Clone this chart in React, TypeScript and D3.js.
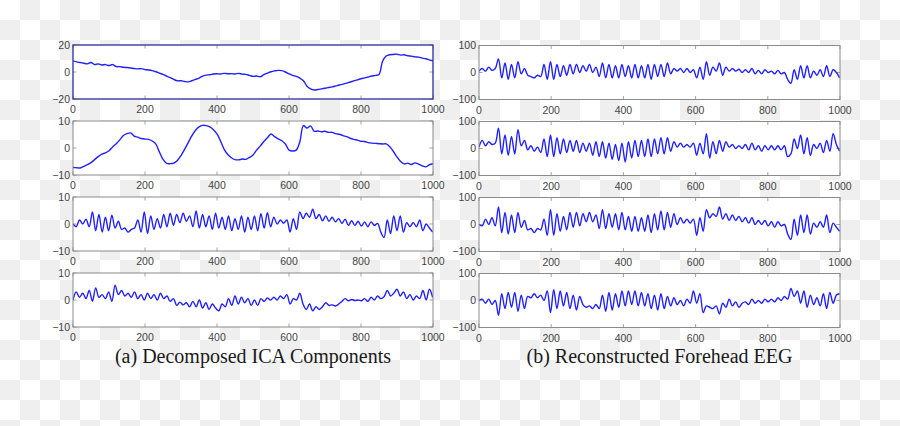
import React from "react";
import * as d3 from "d3";

// ---------- data ----------
// Left column: decomposed ICA components (L1, L2 sampled every 10; L3, L4 every 9)
const L1 = [8.3,7.5,7,6.5,6,7,5.5,6,5.2,5.5, 4.8,5.5,4,4,3.5,3.3,3,2.6,2.3,2.5, 1.8,1.5,1,0.2,-0.8,-1.8,-3,-4.2,-5.5,-6.5, -6.5,-7,-7.3,-6.5,-5.5,-4.5,-3,-2.3,-2,-1.5, -1.3,-1.5,-1,-1.3,-1.2,-1.5,-1,-1.6,-1.8,-2.5, -3.2,-3,-3.5,-2,-0.8,0.2,0.8,1.2,1,0, -1.3,-2.5,-3.3,-4.5,-6.5,-10.5,-12.5,-13.3,-13,-12.5, -12,-11.5,-11,-10.3,-9.6,-9,-8.2,-7.4,-6.6,-5.8, -5,-4.4,-3.7,-3,-2.5,-1.8,8,11.8,12.8,13, 13.2,12.5,12.8,12,11.8,11.2,11,10.3,9.8,9, 8.3];
const L2 = [-7.2,-7.3,-7.4,-6.8,-6.2,-5.4,-4.3,-3.2,-2.3,-1.8, -1,0.4,1.6,3,4.6,5.3,5.6,4.4,4,3.5, 3.3,3.2,2.6,1.5,-1.5,-4.2,-5.7,-5.8,-5.6,-4.6, -2.8,-0.5,2,4.5,6.5,7.8,8.4,8.3,7.8,6.8, 5.2,2.5,-0.5,-2.4,-3.6,-4.3,-4.4,-4.1,-4.2,-3.5, -2.6,-0.8,0.7,2.4,3.8,5.2,4.2,3.4,2.7,1.5, -0.8,-1.1,-0.8,2.3,8.3,7.4,8.2,6.2,6.3,6, 6.2,5.8,5.8,5.3,5.1,4.6,4.2,3.6,3.2,2.9, 2.5,2.4,2,1.8,1.7,1.6,1.5,1.5,0.5,-1.3, -3.3,-5,-5.9,-5.6,-6.1,-5.5,-6,-6.6,-7,-6.2, -5.8];
const L3 = [0,-1,1.5,0,1.8,-1,4.5,-2.5,3.5,-3, 2.5,-2.5,3.3,-1.5,1,-2,-1.5,-3,-2,-1.5, 1.5,-3,4.5,-3.5,3,-2,2,-1.5,3.5,-1, 4,-0.5,3.5,0.5,4,1,3,-1,4.8,-1.5, 3.5,-1,3,-2,4,-1.5,2.5,-2,3,-2.5, 2,-2,3,-3,2.5,-2,3,-2.5,3.8,-1.5, 4.2,-1,2.5,0,1.5,0.3,1.5,-3,2,-2, 4.5,2,4,2.5,5.5,2,3.5,1.2,3,1, 2.5,0.8,2,0.2,1.8,-0.5,1.2,-0.5,1,-0.8, 0.8,-1,0.8,-0.5,0.2,-3,-5,1.5,-3.5,3, -2.5,3,-3,0.5,-1,0.5,-1,1.5,-2.5,0, -1.5,-3];
const L4 = [0,3,1,2.5,0.5,3.5,-0.5,4.5,1,2, 0.5,3,-0.5,5.5,2,3.5,1.5,2.5,1,3, 0.5,2,0,2.5,0.5,2,0,2.5,0.5,1.5, -0.5,0.5,-2,-0.8,-1.8,-1,-2.5,-0.5,-2.5,0, -3,-1,-3.5,-1.5,-3,-4,-1.5,-2.5,0.5,-2, 1.5,-1.5,1,-1,0.5,-2,0,-2,0.5,-0.5, 0.8,0,1,0,1.5,0.5,2,-1.5,0.5,0, 2.5,-1.5,-3.5,-1.5,-4,-2.5,-3.5,-2.5,-1,-2, -1.8,-2.2,-1.5,-0.5,0.5,-0.3,0.2,-0.2,0,-0.3, 0.5,-0.5,1,0,1.5,0.5,1.2,3.5,1.5,2.5, 4,1.5,3,0.5,2,0,1.5,0.5,3.5,0, 4,1];
// Right column: reconstructed forehead EEG (sampled every 9)
const R1 = [5,15,5,20,8,15,50,-20,35,-25, 30,-20,40,-5,15,-10,-15,-20,-10,-15, 30,-25,40,-25,30,-15,25,-10,30,-5, 30,0,25,5,30,0,20,-15,35,-20, 30,-20,25,-20,30,-15,25,-20,30,-20, 25,-20,30,-25,30,-15,30,-15,35,-5, 15,5,15,0,15,0,10,-20,20,-25, 40,-10,20,5,35,-10,20,5,15,5, 12,0,10,0,15,-5,8,-5,10,0, 5,-5,8,-5,0,-25,-40,10,-25,25, -20,25,-20,5,-10,10,-15,25,-15,10, 0,-20];
const R2 = [5,30,10,25,15,20,75,-20,50,-25, 45,-20,70,10,30,-5,10,-10,5,-15, 35,-30,50,-30,40,-20,35,-15,30,-10, 30,-15,20,-10,20,-25,25,-30,25,-35, 20,-40,15,-45,20,-50,25,-35,30,-30, 30,-30,35,-30,35,-20,40,-20,40,-10, 25,5,20,5,15,5,20,-25,20,-20, 55,-35,25,-20,30,-10,25,5,15,0, 10,0,15,-5,20,-5,10,-10,10,-5, 10,-5,10,-5,10,-30,-20,35,0,50, -20,40,-25,15,0,20,-15,30,-10,55, 15,-10];
const R3 = [0,-5,20,0,25,-5,65,-30,45,-35, 35,-30,45,-10,15,-20,-15,-30,-15,-20, 20,-40,55,-40,40,-25,30,-20,45,-10, 45,-5,40,10,45,10,35,-15,55,-15, 40,-10,40,-20,45,-20,30,-25,30,-25, 25,-25,35,-30,40,-20,50,-20,45,-10, 40,0,25,5,20,5,20,-40,25,-25, 55,25,40,30,65,20,40,15,35,15, 30,10,25,5,25,0,15,0,15,-5, 10,-10,10,-5,0,-35,-55,20,-40,35, -30,35,-35,5,-10,10,-10,35,-30,5, -10,-25];
const R4 = [0,5,-10,5,-15,0,-55,25,-30,30, -25,30,-40,20,-30,15,10,25,10,20, 0,35,-45,40,-30,35,-20,30,-30,20, -35,15,-15,-25,-20,-30,-15,-30,20,-40, 30,-35,25,-25,35,-20,35,-15,35,-20, 30,-20,25,-30,20,-35,25,-30,15,-20, 10,-15,0,-20,5,-10,35,-10,25,-45, -20,-25,-30,-20,-50,-10,-25,5,-20,-5, -25,-10,-5,-15,5,-10,0,-10,5,-5, 5,-5,10,0,15,5,45,15,35,-10, 35,-25,20,-15,10,-20,25,-30,30,-10, 20,25];

const X_TICKS = [0, 200, 400, 600, 800, 1000];
const LEFT_Y_TICKS = [[-20, 0, 20], [-10, 0, 10], [-10, 0, 10], [-10, 0, 10]];
const RIGHT_Y_TICKS = [-100, 0, 100];
const CAPTIONS = ["(a) Decomposed ICA Components", "(b) Reconstructed Forehead EEG"];

// ---------- layout ----------
const W = 900, H = 426;
const COLS = [
  { x0: 73, x1: 433, tops: [45, 121, 197, 273] },
  { x0: 479, x1: 840, tops: [45.5, 121.5, 197.5, 273.5] },
];
const PH = 54;

type PanelSpec = { data: number[]; step: number; ticks: number[]; col: number; row: number; highlight?: boolean };

const panels: PanelSpec[] = [
  { data: L1, step: 10, ticks: LEFT_Y_TICKS[0], col: 0, row: 0, highlight: true },
  { data: L2, step: 10, ticks: LEFT_Y_TICKS[1], col: 0, row: 1 },
  { data: L3, step: 9, ticks: LEFT_Y_TICKS[2], col: 0, row: 2 },
  { data: L4, step: 9, ticks: LEFT_Y_TICKS[3], col: 0, row: 3 },
  { data: R1, step: 9, ticks: RIGHT_Y_TICKS, col: 1, row: 0 },
  { data: R2, step: 9, ticks: RIGHT_Y_TICKS, col: 1, row: 1 },
  { data: R3, step: 9, ticks: RIGHT_Y_TICKS, col: 1, row: 2 },
  { data: R4, step: 9, ticks: RIGHT_Y_TICKS, col: 1, row: 3 },
];

const fmt = (v: number) => (v < 0 ? "\u2212" + Math.abs(v) : String(v));

function Panel({ p, idx }: { p: PanelSpec; idx: number }) {
  const c = COLS[p.col];
  const top = c.tops[p.row];
  const x = d3.scaleLinear().domain([0, 1000]).range([c.x0, c.x1]);
  const y = d3.scaleLinear().domain([p.ticks[0], p.ticks[p.ticks.length - 1]]).range([top + PH, top]);
  const line = d3
    .line<number>()
    .x((_, i) => x(Math.min(i * p.step, 1000)))
    .y((d) => y(d))
    .curve(d3.curveCatmullRom.alpha(0.5));
  const clipId = `clip${idx}`;
  const frame = p.highlight ? "#3b3b9c" : "#8a8a8a";
  const tickLen = 3.5;
  return (
    <g>
      <defs>
        <clipPath id={clipId}>
          <rect x={c.x0} y={top} width={c.x1 - c.x0} height={PH} />
        </clipPath>
      </defs>
      <rect x={c.x0} y={top} width={c.x1 - c.x0} height={PH} fill="#fff" />
      {X_TICKS.map((t) => (
        <g key={"xt" + t}>
          <line x1={x(t)} x2={x(t)} y1={top + PH} y2={top + PH - tickLen} stroke="#8a8a8a" strokeWidth={0.8} />
          <line x1={x(t)} x2={x(t)} y1={top} y2={top + tickLen} stroke="#8a8a8a" strokeWidth={0.8} />
          <text x={x(t)} y={top + PH + 14} textAnchor="middle" fontSize={10.5} fill="#444" fontFamily="'Liberation Sans', Arial, sans-serif">
            {t}
          </text>
        </g>
      ))}
      {p.ticks.map((t) => (
        <g key={"yt" + t}>
          <line x1={c.x0} x2={c.x0 + tickLen} y1={y(t)} y2={y(t)} stroke="#8a8a8a" strokeWidth={0.8} />
          <line x1={c.x1} x2={c.x1 - tickLen} y1={y(t)} y2={y(t)} stroke="#8a8a8a" strokeWidth={0.8} />
          <text x={c.x0 - 3} y={y(t) + 3.8} textAnchor="end" fontSize={10.5} fill="#444" fontFamily="'Liberation Sans', Arial, sans-serif">
            {fmt(t)}
          </text>
        </g>
      ))}
      <path d={line(p.data) || ""} fill="none" stroke="#1f1fff" strokeWidth={1.4} strokeLinejoin="round" clipPath={`url(#${clipId})`} />
      <rect x={c.x0} y={top} width={c.x1 - c.x0} height={PH} fill="none" stroke={frame} strokeWidth={p.highlight ? 1.4 : 1} />
    </g>
  );
}

export default function App() {
  return (
    <svg width={W} height={H} style={{ position: "absolute", left: 0, top: 0 }} xmlns="http://www.w3.org/2000/svg">
      <defs>
        <pattern id="checker" width={40} height={40} patternUnits="userSpaceOnUse">
          <rect width={40} height={40} fill="#ffffff" />
          <rect x={20} y={0} width={20} height={20} fill="#efefef" />
          <rect x={0} y={20} width={20} height={20} fill="#efefef" />
        </pattern>
      </defs>
      <rect width={W} height={H} fill="url(#checker)" />
      {panels.map((p, i) => (
        <Panel key={i} p={p} idx={i} />
      ))}
      {CAPTIONS.map((t, i) => (
        <text key={t} x={(COLS[i].x0 + COLS[i].x1) / 2 - (i === 0 ? 0 : 0)} y={363} textAnchor="middle" fontSize={20} fill="#1a1a1a" fontFamily="'Liberation Serif', 'Times New Roman', serif">
          {t}
        </text>
      ))}
    </svg>
  );
}
